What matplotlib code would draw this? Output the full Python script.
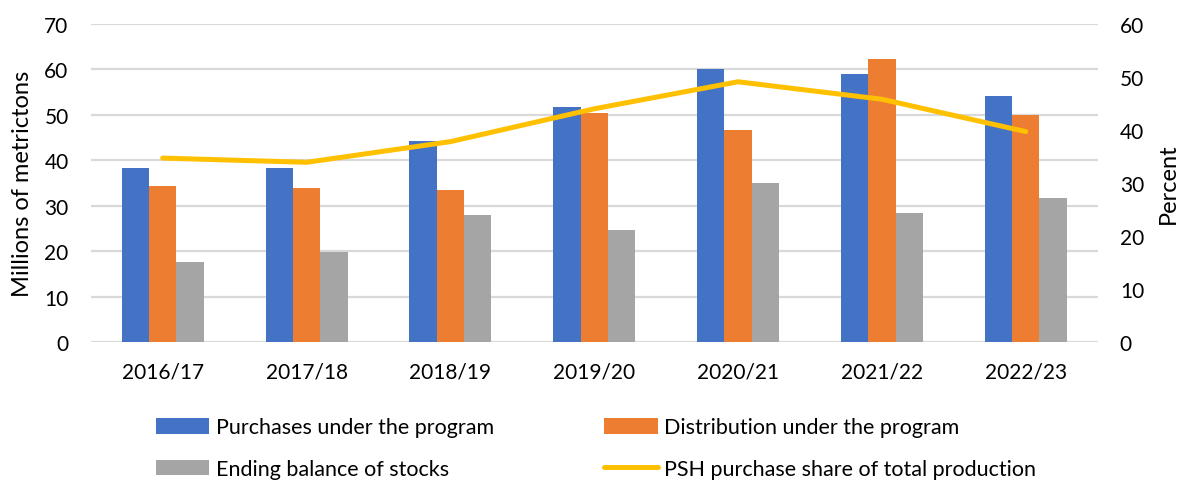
import numpy as np
import matplotlib
matplotlib.use("Agg")
import matplotlib.pyplot as plt

plt.rcParams['font.family'] = ['Lato', 'DejaVu Sans']

seasons = ["2016/17", "2017/18", "2018/19", "2019/20", "2020/21", "2021/22", "2022/23"]
purchases = [38.3, 38.3, 44.3, 51.8, 60.0, 58.9, 54.2]
distribution = [34.3, 33.9, 33.5, 50.5, 46.7, 62.2, 50.0]
ending_stocks = [17.5, 19.7, 27.9, 24.6, 35.0, 28.4, 31.7]
psh_share = [34.7, 33.9, 37.8, 44.0, 49.1, 45.8, 39.7]

BLUE = "#4472C4"
ORANGE = "#ED7D31"
GRAY = "#A5A5A5"
GOLD = "#FFC000"
GRID = "#D9D9D9"
TXT = "#000000"

fig = plt.figure(figsize=(11.79, 4.81), dpi=100)
ax = fig.add_axes([0.077, 0.287, 0.854, 0.661])
ax2 = ax.twinx()

x = np.arange(len(seasons))
w = 0.19
b1 = ax.bar(x - w, purchases, w, color=BLUE, label="Purchases under the program", zorder=2)
b2 = ax.bar(x, distribution, w, color=ORANGE, label="Distribution under the program", zorder=2)
b3 = ax.bar(x + w, ending_stocks, w, color=GRAY, label="Ending balance of stocks", zorder=2)
ln, = ax2.plot(x, psh_share, color=GOLD, lw=3.6, solid_capstyle="round",
               label="PSH purchase share of total production", zorder=3)

ax.set_xlim(-0.5, len(seasons) - 0.5)
ax.set_ylim(0, 70)
ax.set_yticks(range(0, 71, 10))
ax2.set_ylim(0, 60)
ax2.set_yticks(range(0, 61, 10))

ax.set_xticks(x)
ax.set_xticklabels(seasons)
ax.yaxis.grid(True, color=GRID, lw=1.6, zorder=0)
ax.set_axisbelow(True)

for a in (ax, ax2):
    for s in a.spines.values():
        s.set_visible(False)
ax.tick_params(axis="y", length=0, pad=16, labelsize=15, labelcolor=TXT)
ax.tick_params(axis="x", length=0, pad=14, labelsize=15, labelcolor=TXT)
ax2.tick_params(axis="y", length=0, pad=16, labelsize=15, labelcolor=TXT)

ax.set_ylabel("Millions of metrictons", fontsize=17, labelpad=8)
ax2.set_ylabel("Percent", fontsize=17, labelpad=10)

# legend order: matplotlib fills column by column
handles = [b1, b3, b2, ln]
labels = [h.get_label() for h in handles]
fig.legend(handles, labels, ncol=2, loc="upper left", bbox_to_anchor=(0.132, 0.13),
           frameon=False, fontsize=15.5, handlelength=2.5, handleheight=0.75,
           handletextpad=0.3, labelspacing=1.0, columnspacing=5.1,
           borderaxespad=0, borderpad=0)

fig.savefig("out.png", dpi=100)
